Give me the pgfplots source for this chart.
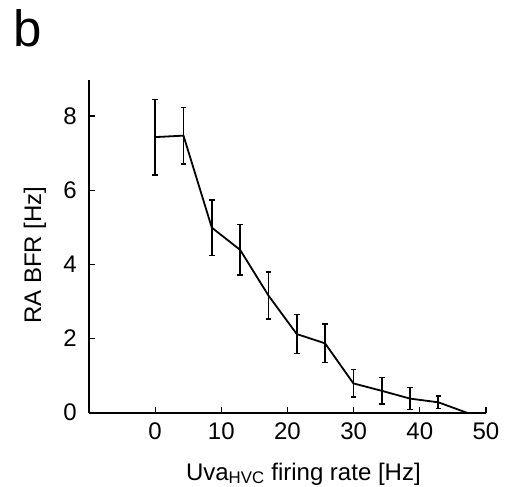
\documentclass[border=0pt]{standalone}
\usepackage{pgfplots}
\pgfplotsset{compat=1.18}
\usepackage{pgfplotstable}
\usepackage{fontspec}
\setmainfont{Liberation Sans}

\pgfplotstableread{
x      y     e
0.00   7.43  1.02
4.28   7.47  0.76
8.56   4.99  0.75
12.84  4.39  0.68
17.12  3.16  0.64
21.40  2.12  0.53
25.68  1.87  0.52
29.96  0.79  0.37
34.24  0.59  0.36
38.52  0.38  0.30
42.80  0.28  0.17
}\dataerr

\begin{document}
\begin{tikzpicture}
\useasboundingbox (-89bp,-74.3bp) rectangle (423bp,412.7bp);
\begin{axis}[
  at={(0,0)}, anchor=south west,
  scale only axis,
  width=397bp, height=332.7bp,
  xmin=-10, xmax=50, ymin=0, ymax=8.97,
  axis lines=left,
  axis line style={-, line width=1.6bp, black},
  xtick={0,10,20,30,40,50},
  ytick={0,2,4,6,8},
  /pgf/number format/assume math mode=true,
  tick align=inside,
  major tick length=6bp,
  tick style={black, line width=1.3bp},
  ticklabel style={font=\fontsize{24bp}{28bp}\selectfont, inner sep=0pt},
  xticklabel style={anchor=north, yshift=-10bp},
  yticklabel style={anchor=east, xshift=-12bp},
  xlabel={Uva\textsubscript{HVC} firing rate [Hz]},
  ylabel={RA BFR [Hz]},
  label style={font=\fontsize{24bp}{28bp}\selectfont},
  xlabel style={at={(axis description cs:0.54,-0.2023)}, anchor=base, inner sep=0pt},
  ylabel style={at={(axis description cs:-0.136,0.474)}, anchor=center, rotate=0, inner sep=0pt},
  clip=false,
]
\addplot[black, line width=1.8bp, mark=none,
  error bars/.cd, y dir=both, y explicit,
  error bar style={line width=1.8bp, black},
  error mark options={rotate=90, mark size=2.8bp, line width=1.5bp, black}]
  table[x=x, y=y, y error=e] {\dataerr};
\addplot[black, line width=1.8bp, mark=none] coordinates {(42.80,0.28) (47.10,0.0)};
\end{axis}
\node[anchor=base west, inner sep=0pt, font=\fontsize{51bp}{60bp}\selectfont] at (-75.5bp,365.7bp) {b};
\end{tikzpicture}
\end{document}
